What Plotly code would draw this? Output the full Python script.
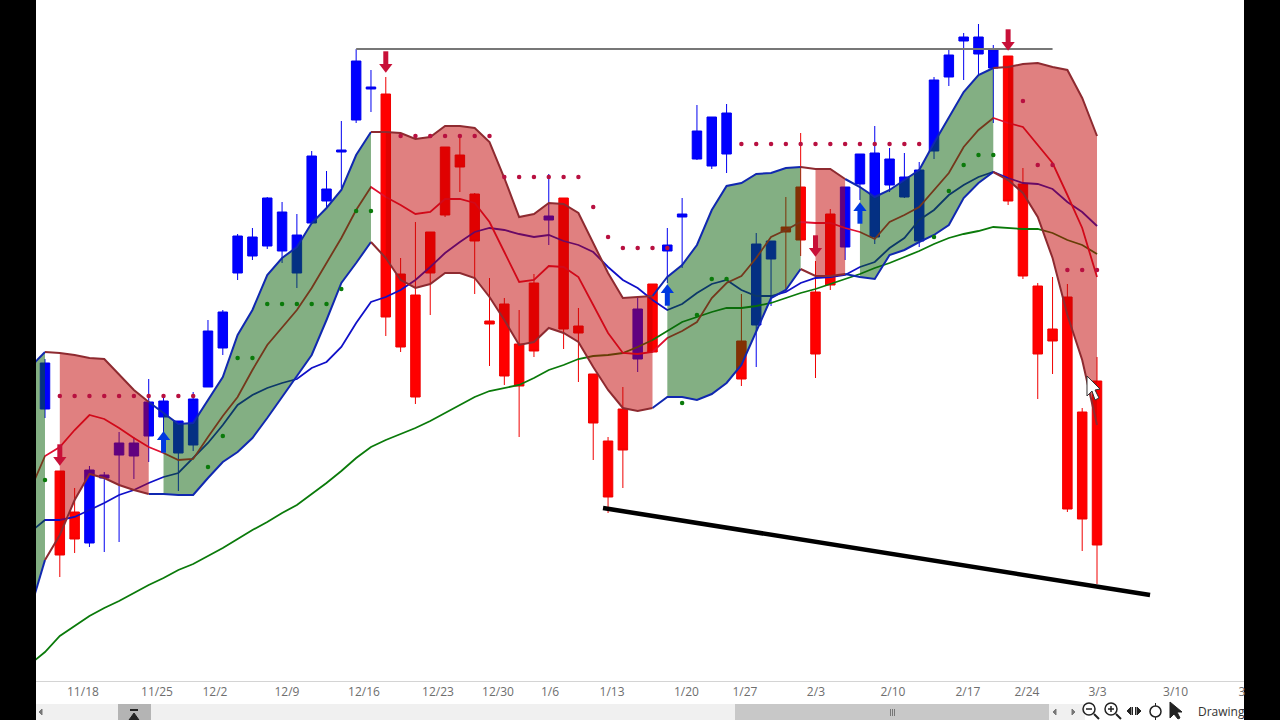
import plotly.graph_objects as go

bar_x = list(range(72))
line_x = list(range(-1, 72))

opens = [272, 210, 169, 138, 203, 226, 225, 245, 264, 228, 236, 294, 333, 408, 425, 435, 430, 408, 458, 480, 529, 561, 592, 587,
         407, 386, 449, 534, 526, 487, 360, 377, 337, 398, 461, 483, 355, 307, 240, 272, 322, 397, 430, 464, 522, 515, 527, 340,
         356, 422, 454, 494, 389, 467, 434, 497, 444, 496, 484, 440, 530, 604, 640, 627, 613, 625, 497, 395, 352, 384, 269, 300]
closes = [318, 126, 142, 211, 206, 238, 238, 279, 280, 260, 282, 350, 369, 445, 444, 483, 469, 446, 525, 492, 531, 620, 594, 364,
          334, 284, 408, 466, 514, 440, 357, 305, 295, 330, 465, 352, 348, 258, 184, 231, 372, 329, 436, 467, 550, 564, 568, 302,
          437, 440, 449, 441, 327, 396, 494, 527, 528, 522, 504, 511, 601, 626, 644, 644, 631, 480, 405, 327, 340, 172, 162, 136]
highs = [322, 210, 193, 215, 209, 249, 244, 302, 283, 260, 289, 361, 371, 447, 453, 484, 479, 467, 530, 510, 560, 632, 611, 604,
         423, 459, 449, 534, 544, 488, 403, 383, 371, 407, 507, 483, 373, 307, 244, 294, 384, 397, 453, 483, 576, 564, 577, 387,
         448, 440, 484, 548, 420, 472, 494, 527, 555, 533, 528, 519, 604, 633, 648, 657, 636, 625, 513, 398, 404, 397, 273, 324]
lows = [263, 104, 128, 134, 129, 139, 202, 219, 249, 190, 230, 294, 326, 401, 421, 432, 418, 393, 457, 474, 493, 558, 569, 345,
        329, 277, 366, 464, 489, 387, 315, 296, 244, 324, 436, 332, 299, 221, 168, 193, 309, 329, 398, 413, 521, 512, 508, 295,
        314, 375, 389, 425, 303, 391, 421, 481, 437, 489, 483, 434, 522, 595, 601, 606, 558, 476, 402, 282, 307, 169, 130, 97]

band_upper = [314, 329, 328, 326, 323, 322, 306, 291, 279, 268, 257, 258, 281, 304, 346, 371, 406, 423, 434, 458, 473, 491, 526, 549,
              549, 548, 542, 544, 555, 555, 553, 539, 503, 464, 467, 478, 477, 468, 438, 408, 383, 384, 385, 404, 416, 436, 471, 495,
              498, 507, 508, 513, 514, 512, 512, 502, 494, 484, 491, 501, 511, 538, 564, 589, 606, 613, 614, 617, 618, 614, 611, 583, 545]
band_lower = [71, 121, 146, 181, 207, 203, 196, 191, 187, 187, 186, 186, 203, 219, 229, 243, 263, 284, 306, 326, 361, 398, 418, 439,
              423, 401, 393, 397, 408, 408, 403, 384, 361, 336, 339, 353, 348, 339, 314, 291, 273, 270, 273, 284, 284, 281, 287, 298,
              316, 349, 383, 391, 412, 405, 405, 407, 404, 402, 426, 431, 439, 446, 456, 483, 498, 509, 501, 488, 464, 423, 366, 321, 256]
band_mid = [191, 225, 234, 251, 266, 262, 253, 243, 234, 228, 221, 222, 244, 265, 284, 311, 336, 353, 371, 393, 418, 443, 471, 494,
            484, 476, 467, 469, 482, 482, 478, 459, 429, 399, 401, 415, 414, 404, 376, 348, 328, 327, 329, 343, 350, 359, 383, 398,
            405, 423, 444, 451, 459, 458, 458, 453, 449, 442, 459, 466, 474, 491, 508, 534, 551, 563, 558, 554, 536, 518, 486, 453, 404]
ma_blue = [149, 161, 161, 164, 171, 178, 186, 191, 198, 204, 208, 223, 238, 256, 276, 286, 293, 298, 302, 313, 319, 334, 358, 379,
           384, 391, 401, 414, 428, 439, 449, 453, 451, 447, 444, 446, 440, 436, 429, 414, 401, 393, 381, 371, 377, 388, 397, 401,
           391, 385, 385, 389, 398, 403, 404, 406, 414, 419, 433, 443, 461, 471, 486, 496, 504, 509, 503, 498, 497, 492, 479, 469, 455]
ma_green = [17, 29, 45, 55, 65, 73, 80, 88, 96, 103, 111, 117, 125, 133, 142, 151, 159, 168, 176, 187, 198, 210, 223, 234,
            241, 247, 253, 260, 268, 276, 284, 290, 293, 296, 303, 311, 316, 322, 325, 326, 328, 334, 341, 350, 359, 364, 369, 373,
            373, 375, 378, 383, 388, 392, 397, 402, 407, 413, 418, 424, 430, 437, 443, 447, 450, 454, 453, 452, 452, 448, 441, 436, 427]

# first and last bar of each band regime
green_spans = [(-1, 0), (8, 22), (42, 51), (55, 64)]
red_spans = [(1, 7), (23, 41), (52, 54), (65, 71)]

red_dot_x = [1, 2, 3, 4, 5, 6, 7, 8, 9, 10, 24, 25, 26, 27, 28, 29, 30, 31, 32, 33, 34, 35, 36, 37, 38, 39, 40, 41, 42,
             47, 48, 49, 50, 51, 52, 53, 54, 55, 56, 57, 58, 59, 66, 67, 68, 69, 70, 71]
red_dot_y = [285, 285, 285, 285, 285, 285, 285, 285, 285, 285, 545, 545, 545, 545, 545, 545, 545, 504, 504, 504, 504, 504, 504, 474, 444, 433, 433, 433, 433,
             537, 537, 537, 537, 537, 537, 537, 537, 537, 537, 537, 537, 537, 580, 516, 516, 411, 411, 411]
green_dot_x = [0, 11, 12, 13, 14, 15, 16, 17, 18, 19, 20, 21, 22, 43, 44, 45, 46, 60, 61, 62, 63, 64]
green_dot_y = [201, 214, 245, 323, 323, 377, 377, 377, 377, 377, 392, 470, 470, 278, 366, 402, 402, 444, 490, 516, 526, 526]

sell_x = [1, 23, 52, 65]
sell_y = [221, 614, 430, 636]
buy_x = [8, 42, 55]
buy_y = [244, 391, 473]

resistance_x = [21, 68]
resistance_y = [632, 632]
support_x = [37.66, 74.58]
support_y = [173, 86]

tick_pos = [2.56, 7.56, 11.47, 16.33, 21.53, 26.52, 30.57, 34.08, 38.27, 43.29, 47.24, 52.03, 57.23, 62.29, 66.27, 71.03, 76.3, 80.78]
tick_text = ['11/18', '11/25', '12/2', '12/9', '12/16', '12/23', '12/30', '1/6', '1/13', '1/20', '1/27', '2/3', '2/10', '2/17',
             '2/24', '3/3', '3/10', '3']

PLOT_W = 1208
PLOT_H = 681


# window chrome is placed in screen pixels, converted to paper units
def px(x):
    return (x - 36) / PLOT_W


def py(y):
    return (PLOT_H - y) / PLOT_H


def rect(x0, y0, x1, y1, color, layer='below'):
    return dict(type='rect', xref='paper', yref='paper', x0=px(x0), x1=px(x1), y0=py(y0), y1=py(y1),
                fillcolor=color, line=dict(width=0), layer=layer)


def ring(x0, y0, x1, y1, color='#222222', width=1.5):
    return dict(type='circle', xref='paper', yref='paper', x0=px(x0), x1=px(x1), y0=py(y0), y1=py(y1),
                line=dict(color=color, width=width), layer='above')


def poly(points, fill='#222222', line='#222222', width=1, close=True):
    d = 'M' + ' L'.join(f'{px(a):.5f},{py(b):.5f}' for a, b in points)
    if close:
        d += ' Z'
    return dict(type='path', xref='paper', yref='paper', path=d, fillcolor=fill if close else None,
                line=dict(color=line, width=width), layer='above')


fig = go.Figure()

fig.add_trace(go.Candlestick(
    x=bar_x, open=opens, high=highs, low=lows, close=closes,
    increasing=dict(line=dict(color='#0000F0', width=1), fillcolor='#0000FF'),
    decreasing=dict(line=dict(color='#F00000', width=1), fillcolor='#FF0000'),
    whiskerwidth=0, showlegend=False,
))

# these lines sit under the band fill, so they change colour inside it
fig.add_trace(go.Scatter(x=line_x, y=ma_green, mode='lines', line=dict(color='#0A7A0A', width=1.8)))
fig.add_trace(go.Scatter(x=line_x, y=ma_blue, mode='lines', line=dict(color='#1010C8', width=1.8)))
fig.add_trace(go.Scatter(x=line_x, y=band_mid, mode='lines', line=dict(color='#E01030', width=1.8)))


def span_slice(values, a, b):
    return values[a + 1:b + 2]


for spans, fill in ((green_spans, 'rgba(8,95,8,0.5)'), (red_spans, 'rgba(193,1,1,0.5)')):
    for a, b in spans:
        xs = line_x[a + 1:b + 2]
        fig.add_trace(go.Scatter(
            x=xs + xs[::-1],
            y=span_slice(band_upper, a, b) + span_slice(band_lower, a, b)[::-1],
            mode='lines', fill='toself', fillcolor=fill, line=dict(width=0),
        ))

for spans, color in ((green_spans, '#1028B0'), (red_spans, '#8E2A30')):
    for a, b in spans:
        start = max(a - 1, -1)
        for band in (band_upper, band_lower):
            fig.add_trace(go.Scatter(
                x=line_x[start + 1:b + 2], y=band[start + 1:b + 2],
                mode='lines', line=dict(color=color, width=2),
            ))

fig.add_trace(go.Scatter(x=red_dot_x, y=red_dot_y, mode='markers', marker=dict(color='#B81040', size=4.5)))
fig.add_trace(go.Scatter(x=green_dot_x, y=green_dot_y, mode='markers', marker=dict(color='#0A7A0A', size=4.5)))

fig.add_trace(go.Scatter(x=resistance_x, y=resistance_y, mode='lines', line=dict(color='#777777', width=2)))
fig.add_trace(go.Scatter(x=support_x, y=support_y, mode='lines', line=dict(color='#000000', width=4.5)))

# arrows: a stem marker and a triangle marker
fig.add_trace(go.Scatter(x=sell_x, y=[v + 8 for v in sell_y], mode='markers',
                         marker=dict(symbol='line-ns', size=11, line=dict(color='#C81038', width=5))))
fig.add_trace(go.Scatter(x=sell_x, y=sell_y, mode='markers',
                         marker=dict(symbol='triangle-down', size=11.5, color='#C81038')))
fig.add_trace(go.Scatter(x=buy_x, y=[v - 8 for v in buy_y], mode='markers',
                         marker=dict(symbol='line-ns', size=11, line=dict(color='#0038E0', width=5))))
fig.add_trace(go.Scatter(x=buy_x, y=buy_y, mode='markers',
                         marker=dict(symbol='triangle-up', size=11.5, color='#0038E0')))

shapes = [
    rect(36, 681, 1244, 720, '#FFFFFF'),
    rect(36, 704, 1085, 720, '#F0F0F0'),
    rect(735, 704, 1049, 720, '#C8C8C8'),
    rect(118, 704, 151, 720, '#B4B4B4'),
    rect(130, 709, 138, 711, '#222222', layer='above'),
    poly([(134, 713), (139, 720), (129, 720)]),
    rect(890, 709, 891, 716, '#777777', layer='above'),
    rect(892, 709, 893, 716, '#777777', layer='above'),
    rect(894, 709, 895, 716, '#777777', layer='above'),
    poly([(42, 709), (42, 715), (39, 712)], fill='#777777', line='#777777'),
    poly([(1056, 709), (1056, 715), (1053, 712)], fill='#777777', line='#777777'),
    poly([(1072, 709), (1072, 715), (1075, 712)], fill='#777777', line='#777777'),
    # zoom out
    ring(1083, 703, 1095, 715),
    poly([(1094, 714), (1099, 719)], close=False, width=2),
    poly([(1086, 709), (1092, 709)], close=False, width=1.5),
    # zoom in
    ring(1105, 703, 1117, 715),
    poly([(1116, 714), (1121, 719)], close=False, width=2),
    poly([(1108, 709), (1114, 709)], close=False, width=1.5),
    poly([(1111, 706), (1111, 712)], close=False, width=1.5),
    # pan
    poly([(1127, 711), (1131, 707), (1131, 715)]),
    poly([(1141, 711), (1137, 707), (1137, 715)]),
    rect(1132, 707, 1133, 715, '#222222', layer='above'),
    rect(1135, 707, 1136, 715, '#222222', layer='above'),
    # target
    ring(1150, 706, 1161, 717),
    poly([(1155.5, 703), (1155.5, 706)], close=False),
    poly([(1155.5, 717), (1155.5, 720)], close=False),
    # pointer
    poly([(1170, 702), (1170, 718), (1174, 714), (1178, 719), (1180, 718), (1177, 712), (1182, 712)]),
    # mouse cursor over the chart
    poly([(1087, 376), (1087, 396), (1092, 391), (1095, 400), (1099, 398), (1095, 390), (1100, 389)],
         fill='#FFFFFF', line='#333333', width=1),
]

fig.update_layout(
    width=1280,
    height=720,
    autosize=False,
    margin=dict(l=36, r=36, t=0, b=39, pad=0),
    paper_bgcolor='#000000',
    plot_bgcolor='#FFFFFF',
    showlegend=False,
    hovermode=False,
    boxgap=0.36,
    boxgroupgap=0,
    xaxis=dict(
        range=[-0.607, 80.92],
        rangeslider=dict(visible=False),
        tickmode='array', tickvals=tick_pos, ticktext=tick_text, tickangle=0,
        tickfont=dict(family='Open Sans', size=12, color='#6E6E6E'),
        ticks='', showgrid=False, zeroline=False,
        showline=True, linecolor='#D4D4D4', linewidth=1,
    ),
    yaxis=dict(range=[0, PLOT_H], visible=False),
    shapes=shapes,
    annotations=[
        dict(text='Drawing', xref='paper', yref='paper', x=px(1196), y=py(712), xanchor='left', yanchor='middle',
             showarrow=False, font=dict(family='Open Sans', size=12, color='#333333')),
    ],
)

fig.write_html("out.html", config=dict(displayModeBar=False),
               post_script="document.body.style.margin='0';document.body.style.background='#000';")
